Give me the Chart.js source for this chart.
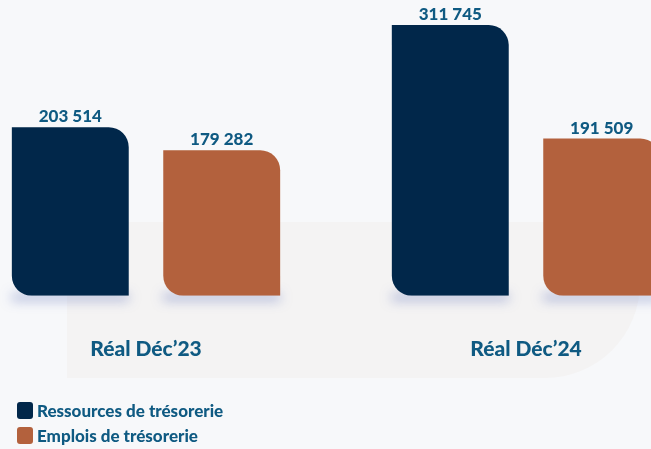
<!DOCTYPE html>
<html>
<head>
<meta charset="utf-8">
<script src="https://cdn.jsdelivr.net/npm/chart.js@4"></script>
<style>
  html, body { margin: 0; padding: 0; }
  body { width: 651px; height: 449px; overflow: hidden; position: relative; background: #f7f8fa; font-family: "Lato", sans-serif; }
  #backshape { position: absolute; left: 67px; top: 222px; width: 573px; height: 156px; background: #f4f3f3; border-radius: 60px 0 95px 0; }
  #wrap { position: absolute; left: -44px; top: 0; width: 760px; height: 449px; }
  #legend { position: absolute; left: 17px; top: 398px; }
  .item { display: flex; align-items: center; height: 25px; font-weight: 900; font-size: 17px; color: #0f5a82; }
  .box { width: 16px; height: 17px; border-radius: 3px; margin-right: 4px; }
</style>
</head>
<body>
<div id="backshape"></div>
<div id="wrap"><canvas id="chart"></canvas></div>
<div id="legend"></div>
<script>
var categories = ['Réal Déc’23', 'Réal Déc’24'];   // x axis labels
var seriesNames = ['Ressources de trésorerie', 'Emplois de trésorerie'];
var ressources = [203514, 311745];                // navy bars
var emplois = [179282, 191509];                   // orange bars
var seriesColors = ['#01274a', '#b3613d'];
var textColor = '#0f5a82';
var yMin = 25000;       // the reference does not start its bars at zero
var yMax = 338300;

// 203514 -> "203 514"
function fmt(v) {
    return String(v).replace(/\B(?=(\d{3})+(?!\d))/g, ' ');
}

// soft bluish shadow under each bar
var shadowPlugin = {
    id: 'barShadow',
    beforeDatasetsDraw: function(chart) {
        var ctx = chart.ctx;
        var bottom = chart.chartArea.bottom;
        ctx.save();
        chart.data.datasets.forEach(function(ds, i) {
            chart.getDatasetMeta(i).data.forEach(function(bar) {
                var w = bar.width;
                ctx.shadowColor = 'rgba(70, 90, 175, 0.55)';
                ctx.shadowBlur = 12;
                ctx.shadowOffsetY = 2000;
                ctx.fillStyle = '#000';
                ctx.fillRect(bar.x - w / 2, bottom - 2000 - 1, w, 5);
            });
        });
        ctx.restore();
    }
};

// value labels above the bars
var valuePlugin = {
    id: 'valueLabels',
    afterDatasetsDraw: function(chart) {
        var ctx = chart.ctx;
        ctx.save();
        ctx.font = '900 17px Lato';
        ctx.fillStyle = textColor;
        ctx.textAlign = 'center';
        ctx.textBaseline = 'bottom';
        chart.data.datasets.forEach(function(ds, i) {
            chart.getDatasetMeta(i).data.forEach(function(bar, j) {
                ctx.fillText(fmt(ds.data[j]), bar.x, bar.y - 2);
            });
        });
        ctx.restore();
    }
};

var radius = { topLeft: 0, topRight: 20, bottomLeft: 20, bottomRight: 0 };
var values = [ressources, emplois];
var datasets = [];
for (let i = 0; i < seriesNames.length; i++) {
    datasets.push({
        label: seriesNames[i],
        data: values[i],
        base: yMin,
        backgroundColor: seriesColors[i],
        borderWidth: 0,
        borderSkipped: false,
        borderRadius: radius,
        categoryPercentage: 0.797,
        barPercentage: 0.772
    });
}

var chart = new Chart(document.getElementById('chart'), {
    type: 'bar',
    data: { labels: categories, datasets: datasets },
    plugins: [shadowPlugin, valuePlugin],
    options: {
        responsive: true,
        maintainAspectRatio: false,
        animation: false,
        layout: { padding: { top: 0, left: 0, right: 0, bottom: 46 } },
        plugins: { legend: { display: false }, tooltip: { enabled: false } },
        scales: {
            x: {
                grid: { display: false, drawTicks: false },
                border: { display: false },
                ticks: { padding: 41, color: textColor, font: { family: 'Lato', size: 21, weight: '900' } }
            },
            y: { display: false, min: yMin, max: yMax }
        }
    }
});

// html legend built from the datasets
var legend = document.getElementById('legend');
chart.data.datasets.forEach(function(ds) {
    var item = document.createElement('div');
    item.className = 'item';
    item.innerHTML = '<span class="box" style="background:' + ds.backgroundColor + '"></span>' + ds.label;
    legend.appendChild(item);
});
</script>
</body>
</html>
